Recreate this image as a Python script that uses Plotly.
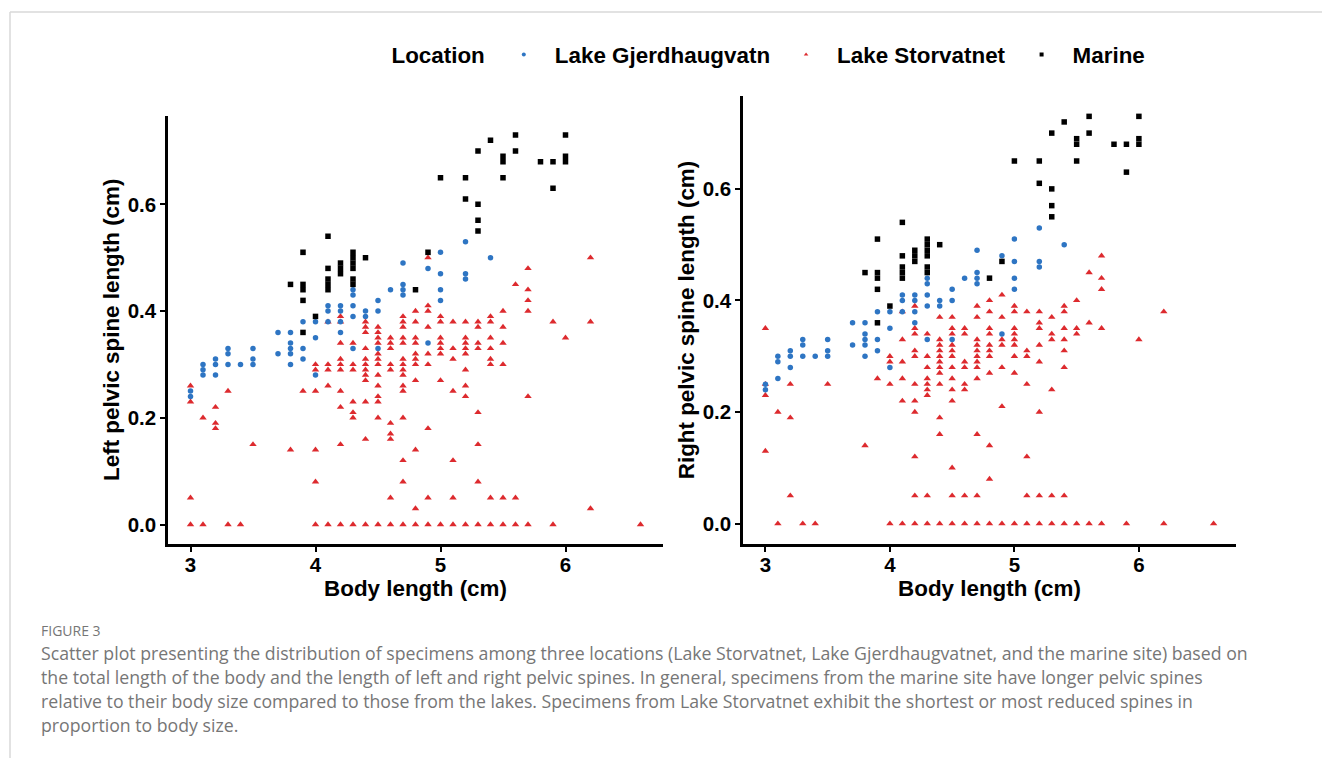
import plotly.graph_objects as go

# ---------------- data ----------------
# Body length (cm) and pelvic spine length (cm) per specimen group

# Lake Gjerdhaugvatn (same specimens in both panels)
gjerd_len = [3.0, 3.0, 3.1, 3.1, 3.1, 3.2, 3.2, 3.2, 3.3, 3.3, 3.3, 3.4,
             3.5, 3.5, 3.5, 3.7, 3.7, 3.8, 3.8, 3.8, 3.8, 3.8,
             3.9, 3.9, 3.9, 4.0, 4.0, 4.0, 4.1, 4.1, 4.1,
             4.2, 4.2, 4.2, 4.2, 4.3, 4.3, 4.3, 4.3, 4.3,
             4.4, 4.4, 4.5, 4.5, 4.5, 4.6, 4.7, 4.7, 4.7, 4.7,
             4.9, 4.9, 5.0, 5.0, 5.0, 5.0, 5.2, 5.2, 5.2, 5.4]
gjerd_left = [0.25, 0.24, 0.30, 0.29, 0.28, 0.31, 0.30, 0.28, 0.33, 0.32, 0.30, 0.30,
              0.33, 0.31, 0.30, 0.36, 0.32, 0.36, 0.34, 0.33, 0.32, 0.30,
              0.38, 0.33, 0.31, 0.38, 0.35, 0.28, 0.41, 0.40, 0.38,
              0.41, 0.40, 0.38, 0.36, 0.44, 0.43, 0.41, 0.39, 0.33,
              0.40, 0.39, 0.42, 0.40, 0.33, 0.44, 0.49, 0.45, 0.44, 0.43,
              0.48, 0.34, 0.51, 0.47, 0.44, 0.42, 0.53, 0.47, 0.46, 0.50]
gjerd_right = [0.25, 0.24, 0.30, 0.29, 0.26, 0.31, 0.30, 0.28, 0.33, 0.32, 0.30, 0.30,
               0.33, 0.31, 0.30, 0.36, 0.32, 0.36, 0.34, 0.33, 0.32, 0.30,
               0.38, 0.33, 0.31, 0.38, 0.35, 0.28, 0.41, 0.40, 0.38,
               0.41, 0.40, 0.38, 0.36, 0.44, 0.43, 0.41, 0.39, 0.33,
               0.40, 0.39, 0.42, 0.40, 0.33, 0.44, 0.49, 0.45, 0.44, 0.43,
               0.48, 0.34, 0.51, 0.47, 0.44, 0.42, 0.53, 0.47, 0.46, 0.50]

# Marine site
marine_len = [3.8, 3.9, 3.9, 3.9, 3.9, 3.9, 4.0,
              4.1, 4.1, 4.1, 4.1, 4.1, 4.2, 4.2, 4.2,
              4.3, 4.3, 4.3, 4.3, 4.3, 4.3, 4.4, 4.8, 4.9,
              5.0, 5.2, 5.2, 5.3, 5.3, 5.3, 5.3,
              5.4, 5.5, 5.5, 5.5, 5.6, 5.6,
              5.8, 5.9, 5.9, 6.0, 6.0, 6.0]
marine_left = [0.45, 0.51, 0.45, 0.44, 0.42, 0.36, 0.39,
               0.54, 0.48, 0.46, 0.45, 0.44, 0.49, 0.48, 0.47,
               0.51, 0.50, 0.49, 0.48, 0.46, 0.45, 0.50, 0.44, 0.51,
               0.65, 0.65, 0.61, 0.70, 0.60, 0.57, 0.55,
               0.72, 0.69, 0.68, 0.65, 0.73, 0.70,
               0.68, 0.68, 0.63, 0.73, 0.69, 0.68]
marine_right = [0.45, 0.51, 0.45, 0.44, 0.42, 0.36, 0.39,
                0.54, 0.48, 0.46, 0.45, 0.44, 0.49, 0.48, 0.47,
                0.51, 0.50, 0.49, 0.48, 0.46, 0.45, 0.50, 0.44, 0.47,
                0.65, 0.65, 0.61, 0.70, 0.60, 0.57, 0.55,
                0.72, 0.69, 0.68, 0.65, 0.73, 0.70,
                0.68, 0.68, 0.63, 0.73, 0.69, 0.68]

# Lake Storvatnet, left spine
storv_left_len = [
    3.0, 3.0, 3.0, 3.0,
    3.1, 3.1,
    3.2, 3.2, 3.2,
    3.3, 3.3,
    3.4, 3.5, 3.8, 3.9,
    4.0, 4.0, 4.0, 4.0, 4.0, 4.0,
    4.1, 4.1, 4.1, 4.1, 4.1,
    4.2, 4.2, 4.2, 4.2, 4.2, 4.2, 4.2, 4.2, 4.2, 4.2,
    4.3, 4.3, 4.3, 4.3, 4.3, 4.3, 4.3,
    4.4, 4.4, 4.4, 4.4, 4.4, 4.4, 4.4, 4.4, 4.4, 4.4, 4.4, 4.4,
    4.5, 4.5, 4.5, 4.5, 4.5, 4.5, 4.5, 4.5, 4.5, 4.5, 4.5, 4.5, 4.5,
    4.6, 4.6, 4.6, 4.6, 4.6, 4.6, 4.6, 4.6, 4.6, 4.6,
    4.7, 4.7, 4.7, 4.7, 4.7, 4.7, 4.7, 4.7, 4.7, 4.7, 4.7, 4.7, 4.7, 4.7, 4.7,
    4.8, 4.8, 4.8, 4.8, 4.8, 4.8, 4.8, 4.8, 4.8, 4.8, 4.8,
    4.9, 4.9, 4.9, 4.9, 4.9, 4.9, 4.9, 4.9, 4.9,
    5.0, 5.0, 5.0, 5.0, 5.0, 5.0, 5.0, 5.0,
    5.1, 5.1, 5.1, 5.1, 5.1, 5.1, 5.1,
    5.2, 5.2, 5.2, 5.2, 5.2, 5.2, 5.2, 5.2, 5.2,
    5.3, 5.3, 5.3, 5.3, 5.3, 5.3, 5.3, 5.3,
    5.4, 5.4, 5.4, 5.4, 5.4, 5.4, 5.4, 5.4,
    5.5, 5.5, 5.5, 5.5, 5.5, 5.5,
    5.6, 5.6, 5.6,
    5.7, 5.7, 5.7, 5.7, 5.7, 5.7,
    5.9, 5.9, 6.0,
    6.2, 6.2, 6.2,
    6.6,
]
storv_left_spine = [
    0.26, 0.23, 0.05, 0.00,
    0.20, 0.00,
    0.22, 0.19, 0.18,
    0.25, 0.00,
    0.00, 0.15, 0.14, 0.25,
    0.30, 0.29, 0.25, 0.14, 0.08, 0.00,
    0.38, 0.30, 0.29, 0.26, 0.00,
    0.39, 0.38, 0.34, 0.31, 0.30, 0.29, 0.25, 0.22, 0.15, 0.00,
    0.34, 0.30, 0.29, 0.23, 0.21, 0.20, 0.00,
    0.38, 0.37, 0.36, 0.33, 0.31, 0.30, 0.29, 0.28, 0.27, 0.23, 0.16, 0.00,
    0.37, 0.36, 0.35, 0.34, 0.32, 0.31, 0.30, 0.28, 0.26, 0.24, 0.23, 0.20, 0.00,
    0.35, 0.34, 0.33, 0.30, 0.29, 0.19, 0.17, 0.16, 0.05, 0.00,
    0.39, 0.38, 0.37, 0.35, 0.34, 0.31, 0.30, 0.29, 0.28, 0.26, 0.25, 0.20, 0.12, 0.08, 0.00,
    0.40, 0.38, 0.35, 0.34, 0.32, 0.31, 0.30, 0.27, 0.14, 0.03, 0.00,
    0.50, 0.41, 0.40, 0.37, 0.32, 0.30, 0.18, 0.05, 0.00,
    0.39, 0.38, 0.35, 0.34, 0.33, 0.32, 0.27, 0.00,
    0.38, 0.33, 0.31, 0.25, 0.12, 0.05, 0.00,
    0.38, 0.35, 0.34, 0.33, 0.32, 0.29, 0.26, 0.24, 0.00,
    0.38, 0.37, 0.34, 0.33, 0.21, 0.15, 0.08, 0.00,
    0.39, 0.38, 0.35, 0.33, 0.31, 0.30, 0.05, 0.00,
    0.40, 0.37, 0.34, 0.30, 0.05, 0.00,
    0.45, 0.05, 0.00,
    0.48, 0.44, 0.42, 0.40, 0.24, 0.00,
    0.38, 0.00, 0.35,
    0.50, 0.38, 0.03,
    0.00,
]

# Lake Storvatnet, right spine
storv_right_len = [
    3.0, 3.0, 3.0, 3.0,
    3.1, 3.1,
    3.2, 3.2, 3.2,
    3.3, 3.4, 3.5, 3.8, 3.9,
    4.0, 4.0, 4.0, 4.0,
    4.1, 4.1, 4.1, 4.1, 4.1, 4.1,
    4.2, 4.2, 4.2, 4.2, 4.2, 4.2, 4.2, 4.2, 4.2, 4.2, 4.2,
    4.3, 4.3, 4.3, 4.3, 4.3, 4.3, 4.3, 4.3, 4.3,
    4.4, 4.4, 4.4, 4.4, 4.4, 4.4, 4.4, 4.4, 4.4, 4.4, 4.4, 4.4,
    4.5, 4.5, 4.5, 4.5, 4.5, 4.5, 4.5, 4.5, 4.5, 4.5, 4.5, 4.5, 4.5,
    4.6, 4.6, 4.6, 4.6, 4.6, 4.6, 4.6, 4.6,
    4.7, 4.7, 4.7, 4.7, 4.7, 4.7, 4.7, 4.7, 4.7, 4.7, 4.7, 4.7,
    4.8, 4.8, 4.8, 4.8, 4.8, 4.8, 4.8, 4.8, 4.8, 4.8, 4.8,
    4.9, 4.9, 4.9, 4.9, 4.9, 4.9, 4.9,
    5.0, 5.0, 5.0, 5.0, 5.0, 5.0, 5.0, 5.0, 5.0,
    5.1, 5.1, 5.1, 5.1, 5.1, 5.1, 5.1,
    5.2, 5.2, 5.2, 5.2, 5.2, 5.2, 5.2, 5.2,
    5.3, 5.3, 5.3, 5.3, 5.3, 5.3,
    5.4, 5.4, 5.4, 5.4, 5.4, 5.4, 5.4, 5.4,
    5.5, 5.5, 5.5, 5.5,
    5.6, 5.6, 5.6,
    5.7, 5.7, 5.7, 5.7, 5.7,
    5.9, 6.0,
    6.2, 6.2,
    6.6,
]
storv_right_spine = [
    0.35, 0.25, 0.23, 0.13,
    0.20, 0.00,
    0.25, 0.19, 0.05,
    0.00, 0.00, 0.25, 0.14, 0.26,
    0.30, 0.29, 0.25, 0.00,
    0.38, 0.33, 0.29, 0.26, 0.22, 0.00,
    0.39, 0.35, 0.34, 0.31, 0.30, 0.25, 0.22, 0.20, 0.12, 0.05, 0.00,
    0.34, 0.30, 0.28, 0.26, 0.25, 0.24, 0.23, 0.05, 0.00,
    0.37, 0.33, 0.32, 0.31, 0.30, 0.29, 0.28, 0.27, 0.25, 0.19, 0.16, 0.00,
    0.37, 0.35, 0.34, 0.32, 0.31, 0.30, 0.28, 0.26, 0.24, 0.22, 0.10, 0.05, 0.00,
    0.35, 0.34, 0.29, 0.28, 0.25, 0.24, 0.05, 0.00,
    0.39, 0.37, 0.33, 0.32, 0.31, 0.30, 0.29, 0.28, 0.26, 0.16, 0.05, 0.00,
    0.40, 0.38, 0.35, 0.34, 0.32, 0.31, 0.30, 0.27, 0.14, 0.08, 0.00,
    0.41, 0.37, 0.33, 0.32, 0.28, 0.21, 0.00,
    0.39, 0.38, 0.35, 0.34, 0.33, 0.32, 0.30, 0.27, 0.00,
    0.38, 0.31, 0.30, 0.25, 0.12, 0.05, 0.00,
    0.38, 0.36, 0.35, 0.32, 0.29, 0.20, 0.05, 0.00,
    0.37, 0.34, 0.33, 0.24, 0.05, 0.00,
    0.39, 0.38, 0.35, 0.33, 0.31, 0.28, 0.05, 0.00,
    0.40, 0.35, 0.34, 0.00,
    0.45, 0.36, 0.00,
    0.48, 0.44, 0.42, 0.35, 0.00,
    0.00, 0.33,
    0.38, 0.00,
    0.00,
]

x_ticks = [3, 4, 5, 6]
y_ticks = [0.0, 0.2, 0.4, 0.6]

locations = ["Lake Gjerdhaugvatn", "Lake Storvatnet", "Marine"]
colors = {"Lake Gjerdhaugvatn": "#2E75C3", "Lake Storvatnet": "#DD2A2E", "Marine": "#000000"}
symbols = {"Lake Gjerdhaugvatn": "circle", "Lake Storvatnet": "triangle-up", "Marine": "square"}
sizes = {"Lake Gjerdhaugvatn": 5.5, "Lake Storvatnet": 6.5, "Marine": 5.5}

caption_lines = [
    "Scatter plot presenting the distribution of specimens among three locations (Lake Storvatnet, Lake Gjerdhaugvatnet, and the marine site) based on",
    "the total length of the body and the length of left and right pelvic spines. In general, specimens from the marine site have longer pelvic spines",
    "relative to their body size compared to those from the lakes. Specimens from Lake Storvatnet exhibit the shortest or most reduced spines in",
    "proportion to body size.",
]

# ---------------- figure ----------------
W, H = 1322, 758
FONT = "Liberation Sans, Arial, sans-serif"
TITLE_SIZE = 22.4

fig = go.Figure()

panels = [
    ("x", "y", {"Lake Gjerdhaugvatn": (gjerd_len, gjerd_left),
                "Lake Storvatnet": (storv_left_len, storv_left_spine),
                "Marine": (marine_len, marine_left)}),
    ("x2", "y2", {"Lake Gjerdhaugvatn": (gjerd_len, gjerd_right),
                  "Lake Storvatnet": (storv_right_len, storv_right_spine),
                  "Marine": (marine_len, marine_right)}),
]

draw_order = ["Lake Storvatnet", "Lake Gjerdhaugvatn", "Marine"]
for xa, ya, series in panels:
    for loc in draw_order:
        xs, ys = series[loc]
        fig.add_trace(go.Scatter(
            x=xs, y=ys, xaxis=xa, yaxis=ya, mode="markers",
            marker=dict(symbol=symbols[loc], color=colors[loc], size=sizes[loc],
                        line=dict(width=0)),
            name=loc, showlegend=False, hoverinfo="x+y+name",
        ))

# Legend entries (small keys, as in the legend guide)
for loc in locations:
    fig.add_trace(go.Scatter(
        x=[None], y=[None], mode="markers", name=loc,
        marker=dict(symbol=symbols[loc], color=colors[loc], size=4),
        showlegend=True,
    ))

axis_common = dict(
    showline=True, linecolor="black", linewidth=2.5,
    ticks="outside", ticklen=5, tickwidth=2.2, tickcolor="black",
    showgrid=False, zeroline=False, mirror=False,
    tickfont=dict(family=FONT, size=20.5, color="black", weight="bold"),
)

x_range = [2.82, 6.78]
y_range = [-0.0365, 0.7665]


def px_x(p):
    return p / W


def px_y(p):
    return 1 - p / H


def title_font():
    return dict(family=FONT, size=TITLE_SIZE, color="black", weight="bold")


fig.update_layout(
    width=W, height=H,
    margin=dict(l=0, r=0, t=0, b=0),
    paper_bgcolor="white", plot_bgcolor="white",
    xaxis=dict(domain=[px_x(168), px_x(663)], range=x_range, tickvals=x_ticks,
               anchor="y", ticklabelstandoff=-4,
               title=dict(text="Body length (cm)", standoff=4, font=title_font()),
               **axis_common),
    yaxis=dict(domain=[px_y(544), px_y(115.5)], range=y_range, tickvals=y_ticks,
               tickformat=".1f", anchor="x",
               title=dict(text="Left pelvic spine length (cm)", standoff=2, font=title_font()),
               **axis_common),
    xaxis2=dict(domain=[px_x(743), px_x(1236)], range=x_range, tickvals=x_ticks,
                anchor="y2", ticklabelstandoff=-4,
                title=dict(text="Body length (cm)", standoff=4, font=title_font()),
                **axis_common),
    yaxis2=dict(domain=[px_y(544), px_y(96)], range=y_range, tickvals=y_ticks,
                tickformat=".1f", anchor="x2",
                title=dict(text="Right pelvic spine length (cm)", standoff=2, font=title_font()),
                **axis_common),
    legend=dict(
        orientation="h", x=px_x(770), xanchor="center", y=px_y(55), yanchor="middle",
        title=dict(text="Location", side="left", font=title_font()),
        font=title_font(),
        itemwidth=52, bgcolor="rgba(0,0,0,0)",
    ),
)

# Frame lines of the figure panel
fig.add_shape(type="line", xref="paper", yref="paper",
              x0=px_x(10), x1=1, y0=px_y(12), y1=px_y(12),
              line=dict(color="#d9d9d9", width=1.5))
fig.add_shape(type="line", xref="paper", yref="paper",
              x0=px_x(10), x1=px_x(10), y0=px_y(12), y1=0,
              line=dict(color="#d9d9d9", width=1.5))

CAP_FONT = "Open Sans, Noto Sans, sans-serif"
CAP_COLOR = "#767676"
fig.add_annotation(text="FIGURE 3", xref="paper", yref="paper",
                   x=px_x(39), y=px_y(630), xanchor="left", yanchor="middle",
                   showarrow=False, font=dict(family=CAP_FONT, size=14, color=CAP_COLOR))
for i, line in enumerate(caption_lines):
    fig.add_annotation(text=line, xref="paper", yref="paper",
                       x=px_x(39), y=px_y(653 + 24 * i), xanchor="left", yanchor="middle",
                       showarrow=False, font=dict(family=CAP_FONT, size=17.7, color=CAP_COLOR))

fig.write_html("out.html")
